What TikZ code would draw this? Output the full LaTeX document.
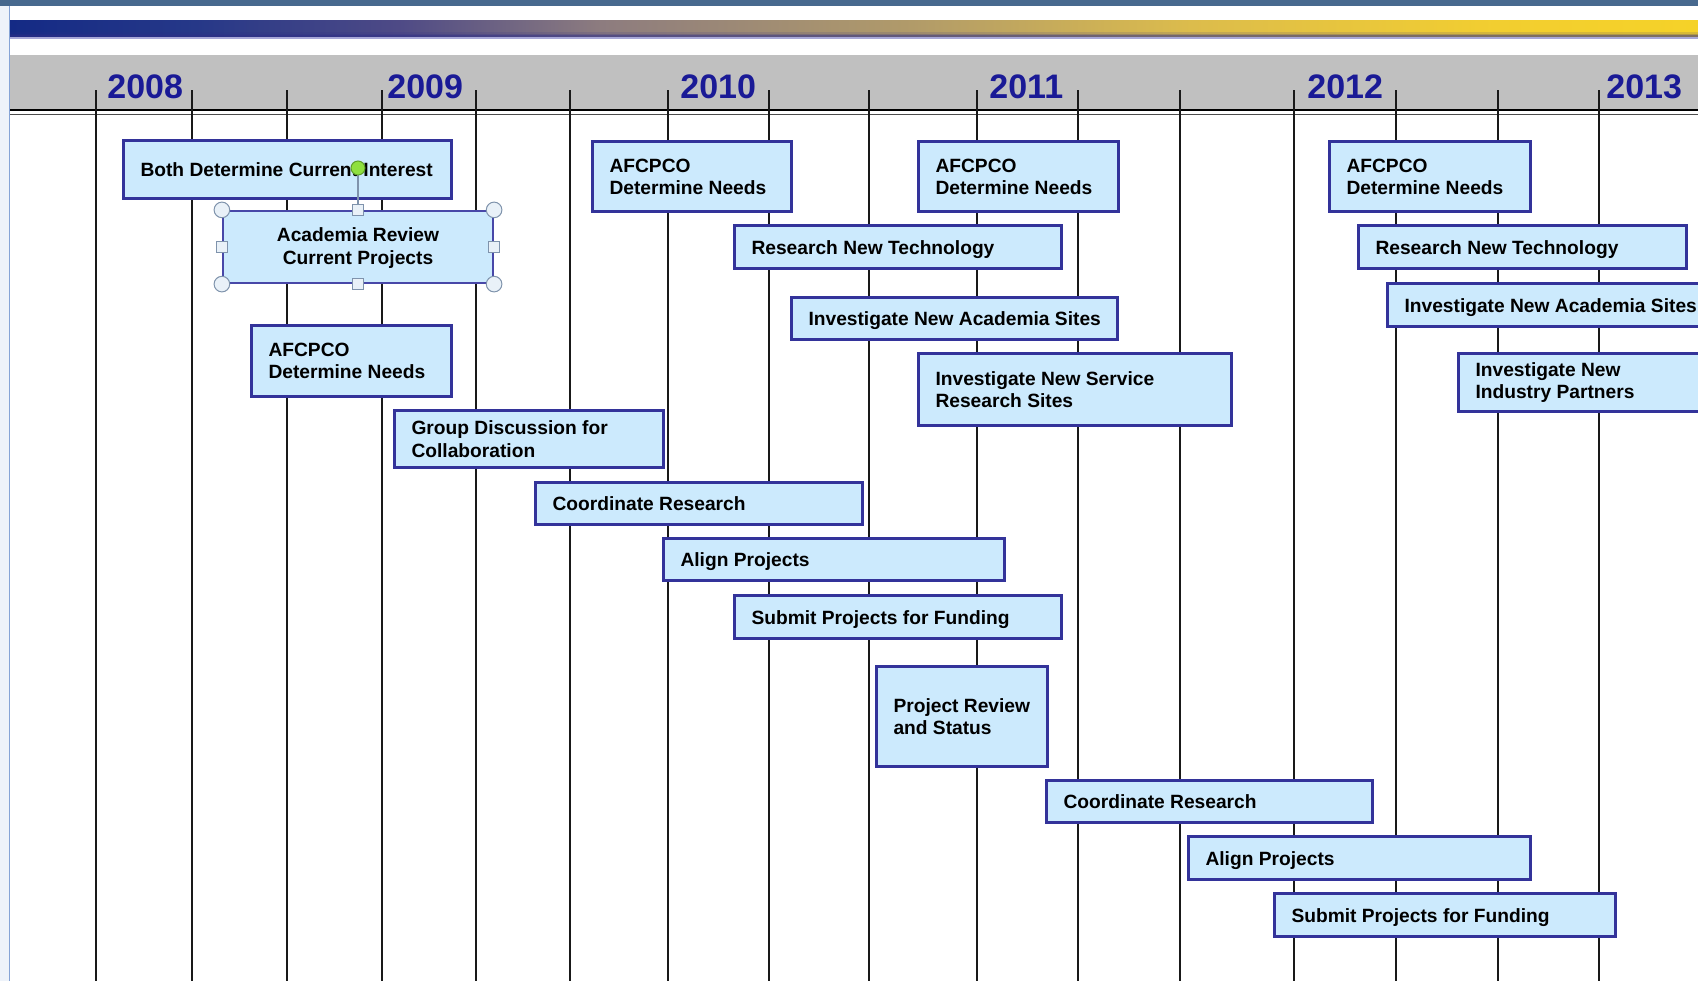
\documentclass[tikz,border=0pt]{standalone}
\usepackage{fontspec}
\setmainfont{Liberation Sans}
\usetikzlibrary{fit}
\definecolor{boxfill}{HTML}{CCEAFD}
\definecolor{boxline}{HTML}{33339A}
\definecolor{selline}{HTML}{4848A8}
\definecolor{yearblue}{HTML}{1A1A96}
\definecolor{hdrgray}{HTML}{C0C0C0}
\definecolor{topbar}{HTML}{47698E}
\definecolor{leftstrip}{HTML}{EEF3FA}
\definecolor{leftline}{HTML}{86A4D6}
\definecolor{handlefill}{HTML}{E9F1F8}
\definecolor{handleline}{HTML}{7F93AC}
\definecolor{rotfill}{HTML}{8FE040}
\definecolor{rotline}{HTML}{5E9E2A}
\definecolor{gA}{HTML}{142A85}
\definecolor{gB}{HTML}{263888}
\definecolor{gC}{HTML}{4E4A86}
\definecolor{gD}{HTML}{8D7C7F}
\definecolor{gE}{HTML}{B09A6A}
\definecolor{gF}{HTML}{DCBC4C}
\definecolor{gG}{HTML}{F2CE30}
\definecolor{gH}{HTML}{F5D228}
\definecolor{bandshadow}{HTML}{2E2E86}
\definecolor{bandedge}{HTML}{A8A8D8}
\pgfdeclarehorizontalshading{bandshade}{100bp}{color(0bp)=(gA); color(25bp)=(gA); color(30.5bp)=(gB); color(36.5bp)=(gC); color(42.5bp)=(gD); color(51.5bp)=(gE); color(60bp)=(gF); color(69bp)=(gG); color(75bp)=(gH); color(100bp)=(gH)}
\newcommand\tlbox[6]{%
  \node[tlrect, fit={(#2,#3)(#4,#5)}] (#1) {};
  \node[tltext, text depth=0pt, anchor=west] (#1-t) at ([xshift=9.3pt, yshift=-0.4pt]#1.west) {#6};
}
\newcommand\tlboxm[6]{%
  \node[tlrect, fit={(#2,#3)(#4,#5)}] (#1) {};
  \node[tltext, anchor=west] (#1-t) at ([xshift=9.3pt, yshift=-0.3pt]#1.west) {#6};
}
\begin{document}
\begin{tikzpicture}[x=0.5pt,y=-0.5pt,
  tlrect/.style={draw=boxline, fill=boxfill, line width=1.5pt, inner sep=0pt},
  tltext/.style={inner sep=0pt, align=left, text=black, font={\fontsize{9.6pt}{11.2pt}\selectfont\bfseries}},
  year/.style={inner sep=0pt, text=yearblue, font={\fontsize{17pt}{20pt}\selectfont\bfseries}},
  vline/.style={draw=black!90, line width=0.8pt},
  handle/.style={fill=handlefill, draw=handleline, line width=0.5pt}]
\useasboundingbox (0,0) rectangle (1698,981);
\clip (0,0) rectangle (1698,981);
\fill[white] (0,0) rectangle (1698,981);
% window frame
\fill[topbar] (0,0) rectangle (1698,6);
\fill[leftstrip] (0,6) rectangle (9,981);
\draw[leftline, line width=0.6pt] (9.5,6) -- (9.5,981);
% gradient band
\shade[shading=bandshade] (10,20.5) rectangle (1698,37);
\fill[bandshadow, opacity=0.15] (10,32) rectangle (1698,33.5);
\fill[bandshadow, opacity=0.35] (10,33.5) rectangle (1698,35);
\fill[bandshadow, opacity=0.6] (10,35) rectangle (1698,37);
\fill[bandedge] (10,37) rectangle (1698,38.5);
% header
\fill[hdrgray] (10,55) rectangle (1698,109);
\draw[black, line width=1pt] (10,109.5) -- (1698,109.5);
\draw[black!70, line width=0.8pt] (10,114.5) -- (1698,114.5);
% timeline grid
\foreach \x in {96,192,287,382,476,570,668,769,869,977,1078,1180,1294,1396,1498,1599}
  \draw[vline] (\x,90) -- (\x,981);
% years
\node[year, anchor=base west] (y2008) at (107,98) {2008};
\node[year, anchor=base west] (y2009) at (387,98) {2009};
\node[year, anchor=base west] (y2010) at (680,98) {2010};
\node[year, anchor=base west] (y2011) at (989,98) {2011};
\node[year, anchor=base west] (y2012) at (1307,98) {2012};
\node[year, anchor=base west] (y2013) at (1606,98) {2013};
% task boxes
\tlbox{both}{123}{140}{451}{198}{Both Determine Current Interest}
\node[tlrect, draw=selline, line width=1.1pt, fit={(223,211)(493,283)}] (acad) {};
\node[tltext, align=center] (acad-t) at ([yshift=-0.5pt]acad.center) {Academia Review\\Current Projects};
\tlboxm{afcA}{251}{325}{451}{396}{AFCPCO\\Determine Needs}
\tlboxm{group}{394}{410}{663}{467}{Group Discussion for\\Collaboration}
\tlboxm{afcB}{592}{141}{791}{211}{AFCPCO\\Determine Needs}
\tlbox{coordA}{535}{482}{862}{524}{Coordinate Research}
\tlbox{alignA}{663}{538}{1004}{580}{Align Projects}
\tlbox{submitA}{734}{595}{1061}{638}{Submit Projects for Funding}
\tlbox{rntA}{734}{225}{1061}{268}{Research New Technology}
\tlboxm{afcC}{918}{141}{1118}{211}{AFCPCO\\Determine Needs}
\tlbox{insA}{791}{297}{1117}{339}{Investigate New Academia Sites}
\tlboxm{svc}{918}{353}{1231}{425}{Investigate New Service\\Research Sites}
\tlboxm{prs}{876}{666}{1047}{766}{Project Review\\and Status}
\tlbox{coordB}{1046}{780}{1372}{822}{Coordinate Research}
\tlbox{alignB}{1188}{836}{1530}{879}{Align Projects}
\tlbox{submitB}{1274}{893}{1615}{936}{Submit Projects for Funding}
\tlboxm{afcD}{1329}{141}{1530}{211}{AFCPCO\\Determine Needs}
\tlbox{rntB}{1358}{225}{1686}{268}{Research New Technology}
\tlbox{insB}{1387}{283}{1730}{326}{Investigate New Academia Sites}
\tlboxm{ind}{1458}{353}{1730}{411}{Investigate New\\Industry Partners}
% selection handles on the Academia box
\draw[handleline, line width=0.8pt] (acad.north) -- (358,168);
\foreach \p in {north west, north east, south west, south east}
  \filldraw[handle] (acad.\p) circle[radius=3.9pt];
\foreach \p in {north, south, west, east}
  \filldraw[handle] ([shift={(-2.8pt,-2.8pt)}]acad.\p) rectangle ++(5.6pt,5.6pt);
\filldraw[fill=rotfill, draw=rotline, line width=0.5pt] (358,168) circle[radius=3.5pt];
\end{tikzpicture}
\end{document}
